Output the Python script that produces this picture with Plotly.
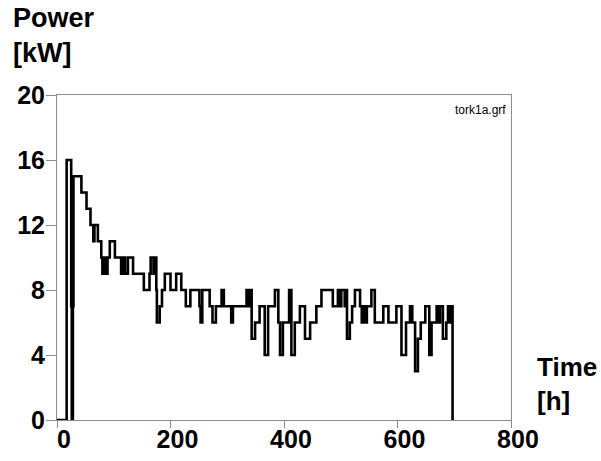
import plotly.graph_objects as go

# Time [h] at which each step begins, and the power level [kW] from that time on
time_h = [
    0, 17, 25, 26, 28, 29, 43, 52, 59, 64,
    66, 72, 78, 80, 84, 87, 89, 93, 102, 113,
    117, 120, 125, 134, 153, 163, 165, 170, 172, 175,
    176, 181, 185, 190, 200, 210, 219, 227, 235, 251,
    253, 256, 269, 274, 280, 290, 294, 307, 310, 334,
    337, 339, 343, 349, 357, 366, 372, 384, 390, 393,
    398, 409, 413, 419, 428, 437, 446, 457, 466, 486,
    495, 499, 501, 507, 509, 511, 516, 520, 525, 534,
    537, 540, 543, 546, 554, 560, 575, 584, 598, 607,
    615, 622, 626, 631, 636, 641, 649, 656, 660, 669,
    672, 675, 680, 686, 689, 692, 694, 697]
power_kw = [
    0, 16, 7, 0, 7, 15, 14, 13, 12, 11,
    12, 11, 10, 9, 10, 9, 10, 11, 10, 9,
    10, 9, 10, 9, 8, 9, 10, 9, 10, 8,
    6, 7, 8, 9, 8, 9, 8, 7, 8, 7,
    6, 8, 7, 6, 7, 8, 7, 6, 7, 8,
    7, 8, 5, 6, 7, 4, 7, 8, 6, 4,
    6, 8, 4, 6, 7, 5, 6, 7, 8, 7,
    8, 7, 8, 7, 8, 5, 6, 7, 8, 7,
    6, 7, 6, 7, 8, 6, 7, 6, 7, 4,
    6, 7, 6, 3, 5, 6, 7, 4, 6, 7,
    6, 7, 5, 6, 7, 6, 7, 0]

x_ticks = [0, 200, 400, 600, 800]
x_tick_labels = ["0", "200", "400", "600", "800"]
y_ticks = [0, 4, 8, 12, 16, 20]

FONT = "Arial, Liberation Sans, sans-serif"

fig = go.Figure()
fig.add_trace(go.Scatter(
    x=time_h, y=power_kw, mode="lines", line_shape="hv",
    line=dict(color="black", width=2.6), showlegend=False, hoverinfo="skip",
))

axis_common = dict(
    showgrid=False, zeroline=False, showline=True, linecolor="#8c8c8c",
    linewidth=1, mirror=True, ticks="outside", tickcolor="#8c8c8c",
    automargin=False,
    tickfont=dict(family=FONT, size=25, color="black", weight="bold"),
)
fig.update_xaxes(range=[0, 800], tickvals=x_ticks,
                 ticktext=["\u00a0\u00a0" + t for t in x_tick_labels],
                 ticklen=7, ticklabelstandoff=-10, **axis_common)
fig.update_yaxes(range=[0, 20], tickvals=y_ticks, ticklen=10,
                 ticklabelstandoff=-4, **axis_common)

fig.update_layout(
    width=601, height=461,
    margin=dict(l=57, r=90, t=95, b=41),
    paper_bgcolor="white", plot_bgcolor="white",
    annotations=[
        dict(text="<b>Power</b><br><b>[kW]</b>", xref="paper", yref="paper",
             x=-0.101, y=1.29, xanchor="left", yanchor="top", align="left",
             showarrow=False, font=dict(family=FONT, size=27, color="black")),
        dict(text="<b>Time</b><br><b>[h]</b>", xref="paper", yref="paper",
             x=1.053, y=0.215, xanchor="left", yanchor="top", align="left",
             showarrow=False, font=dict(family=FONT, size=26, color="black")),
        dict(text="tork1a.grf", xref="paper", yref="paper",
             x=0.993, y=0.954, xanchor="right", yanchor="middle",
             showarrow=False, font=dict(family=FONT, size=12, color="black")),
    ],
)

fig.write_html("out.html", config={"displayModeBar": False},
               post_script="document.body.style.margin='0';document.body.style.padding='0';")
